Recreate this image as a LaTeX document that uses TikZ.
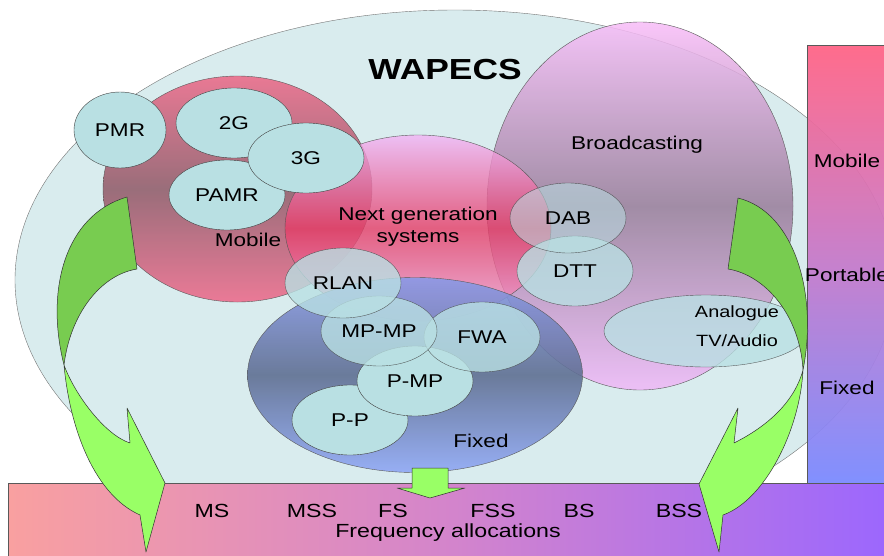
\documentclass[tikz,border=0pt]{standalone}
\usepackage{fontspec}
\setmainfont{Liberation Sans}[FakeStretch=1.22]
\usepackage{tikz}
\usetikzlibrary{shapes.geometric}

\definecolor{wapecsbg}{HTML}{D9ECEE}
\definecolor{cellfill}{HTML}{B9E0E3}
\definecolor{mobtop}{HTML}{EC6585}
\definecolor{mobmid}{HTML}{8F5866}
\definecolor{mobbot}{HTML}{EE6688}
\definecolor{nexttop}{HTML}{F2B4F6}
\definecolor{nextmid}{HTML}{E63C66}
\definecolor{nextbot}{HTML}{F2A4D8}
\definecolor{brtop}{HTML}{F8BCF8}
\definecolor{brmid}{HTML}{987C99}
\definecolor{brbot}{HTML}{F0B8F8}
\definecolor{fixtop}{HTML}{8A9AE8}
\definecolor{fixmid}{HTML}{5F6F92}
\definecolor{fixbot}{HTML}{90A8F6}
\definecolor{scaletop}{HTML}{FF6486}
\definecolor{scalemid}{HTML}{C67CCC}
\definecolor{scalebot}{HTML}{7A8AFF}
\definecolor{barleft}{HTML}{F9A0A0}
\definecolor{barmid}{HTML}{D384CC}
\definecolor{barright}{HTML}{9A66FF}
\definecolor{greendark}{HTML}{78CC50}
\definecolor{greenlight}{HTML}{99FF66}

\begin{document}
\begin{tikzpicture}[x=1pt,y=-1pt,line join=round]
  \tikzstyle{every node}=[font=\fontsize{18.5}{22}\selectfont,text=black]
  \tikzstyle{cell}=[ellipse,draw=black!75,fill=cellfill,inner sep=0pt,minimum width=116pt,minimum height=70pt,text opacity=1]
  \tikzstyle{faded}=[fill opacity=.8,draw opacity=.8]
  \tikzstyle{area}=[ellipse,draw=black!65,inner sep=0pt,fill opacity=.85]
  \tikzstyle{arrowedge}=[draw=black!80,line width=.5pt]

  \useasboundingbox (0,0) rectangle (884,555);
  \clip (0,0) rectangle (884,555);

  \node[ellipse,draw=black!55,fill=wapecsbg,inner sep=0pt,minimum width=880pt,minimum height=540pt] (wapecs) at (455,280) {};
  \node[font=\bfseries\fontsize{29}{32}\selectfont] (title) at (445,70) {WAPECS};

  \path[draw=black!65,top color=scaletop,bottom color=scalebot,middle color=scalemid,fill opacity=.95] (807,45) rectangle (900,483);
  \node (rmob)  at (847,161) {Mobile};
  \node (rport) at (847,275) {Portable};
  \node (rfix)  at (847,388) {Fixed};

  \node[area,top color=brtop,bottom color=brbot,middle color=brmid,minimum width=306pt,minimum height=368pt] (broad) at (640,206) {};
  \node[area,top color=mobtop,bottom color=mobbot,middle color=mobmid,minimum width=269pt,minimum height=226pt] (mobile) at (237.5,189) {};
  \node[area,top color=nexttop,bottom color=nextbot,middle color=nextmid,minimum width=266pt,minimum height=186pt,fill opacity=.8] (next) at (418,228) {};
  \node[area,top color=fixtop,bottom color=fixbot,middle color=fixmid,minimum width=335pt,minimum height=195pt,fill opacity=.9] (fixed) at (415,375) {};

  \node (mobilelbl) at (248,240) {Mobile};
  \node[align=center] (nextlbl) at (418,227) {Next generation\\systems};
  \node (broadlbl) at (637,145) {Broadcasting};
  \node (fixedlbl) at (481,441) {Fixed};

  \node[cell,minimum width=92pt,minimum height=76pt] (pmr) at (120,130) {PMR};
  \node[cell] (g2)   at (234,123) {2G};
  \node[cell] (pamr) at (227,195) {PAMR};
  \node[cell] (g3)   at (306,158) {3G};

  \node[cell,faded] (dtt) at (575,271) {DTT};
  \node[cell,faded,fill opacity=.55] (dab) at (568,218) {DAB};
  \node[cell,faded,minimum width=204pt,minimum height=72pt] (ana) at (706,331) {};
  \node[font=\fontsize{16.3}{29}\selectfont,align=center] (analbl) at (737,326) {Analogue\\TV/Audio};

  \node[cell] (pp)  at (350,420) {P-P};
  \node[cell] (pmp) at (415,381) {P-MP};
  \node[cell,faded] (fwa)  at (482,337) {FWA};
  \node[cell,faded] (mpmp) at (379,331) {MP-MP};
  \node[cell,faded] (rlan) at (343,283) {RLAN};

  \path[draw=black!65,left color=barleft,right color=barright,middle color=barmid] (8,483) rectangle (900,560);
  \node[font=\fontsize{19}{22}\selectfont] (ms)  at (212,511) {MS};
  \node[font=\fontsize{19}{22}\selectfont] (mss) at (312,511) {MSS};
  \node[font=\fontsize{19}{22}\selectfont] (fs)  at (393,511) {FS};
  \node[font=\fontsize{19}{22}\selectfont] (fss) at (493,511) {FSS};
  \node[font=\fontsize{19}{22}\selectfont] (bs)  at (579,511) {BS};
  \node[font=\fontsize{19}{22}\selectfont] (bss) at (679,511) {BSS};
  \node[font=\fontsize{19}{22}\selectfont] (freq) at (448,533) {Frequency allocations};

  \path[arrowedge,fill=greendark] (127,197) .. controls (65,215) and (45,290) .. (64,365)
    .. controls (70,315) and (100,275) .. (137,269) -- cycle;
  \path[arrowedge,fill=greenlight] (64,365) .. controls (70,430) and (95,495) .. (140,515)
    -- (146,552) -- (165,483) -- (127,408) -- (130,443)
    .. controls (105,435) and (75,395) .. (64,365) -- cycle;

  \path[arrowedge,fill=greendark] (738,198) .. controls (795,212) and (818,295) .. (803,370)
    .. controls (800,315) and (765,275) .. (728,269) -- cycle;
  \path[arrowedge,fill=greenlight] (803,370) .. controls (800,430) and (765,500) .. (723,515)
    -- (719,552) -- (699,484) -- (738,408) -- (734,443)
    .. controls (770,425) and (795,400) .. (803,370) -- cycle;

  \path[arrowedge,fill=greenlight] (412,468) -- (448,468) -- (448,488) -- (465,488)
    -- (430,498) -- (397,488) -- (412,488) -- cycle;
\end{tikzpicture}
\end{document}
